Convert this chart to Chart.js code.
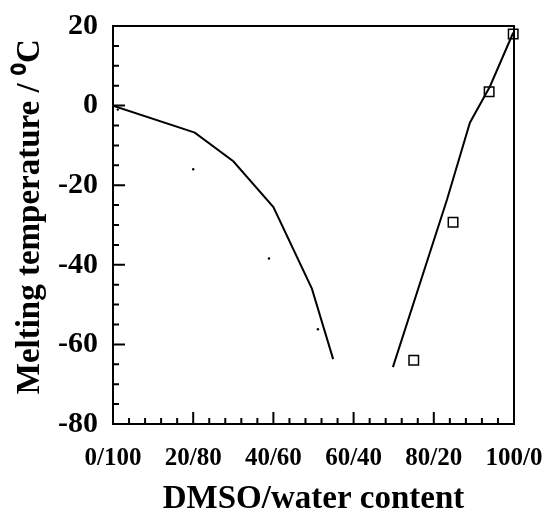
<!DOCTYPE html>
<html>
<head>
<meta charset="utf-8">
<script src="https://cdn.jsdelivr.net/npm/chart.js@4/dist/chart.umd.min.js"></script>
<style>
  body { margin: 0; background: #fff; }
  #wrap { width: 547px; height: 512px; }
</style>
</head>
<body>
<div id="wrap"><canvas id="grafico" width="547" height="512"></canvas></div>
<script>
// curva de fusion, lado agua
const lineaAguaX = [0, 20.4, 30, 40, 49.6, 54.9];
const lineaAguaY = [0, -6.8, -14, -25.5, -46, -63.7];
// curva de fusion, lado DMSO
const lineaDmsoX = [69.8, 83.3, 89, 94, 99.8];
const lineaDmsoY = [-65.7, -23.6, -4.3, 4.8, 18.3];
// puntos pequenos
const puntosX = [1.2, 20, 38.9, 51.1];
const puntosY = [-1, -16, -38.4, -56.2];
// cuadrados
const cuadradosX = [75, 84.8, 93.8, 99.8];
const cuadradosY = [-64, -29.3, 3.5, 18];

const ticksY = [-80, -60, -40, -20, 0, 20];
const ticksX = [0, 20, 40, 60, 80, 100];

const fuente = '"Liberation Serif", "Times New Roman", serif';

function pares(xs, ys) {
    return xs.map((x, i) => ({ x: x, y: ys[i] }));
}

// Marco superior/derecho y marcas hacia dentro
const marcoPlugin = {
    id: 'marco',
    afterDraw(chart) {
        const ctx = chart.ctx;
        const a = chart.chartArea;
        const sx = chart.scales.x;
        const sy = chart.scales.y;
        ctx.save();
        ctx.strokeStyle = '#000';
        ctx.lineWidth = 2;
        ctx.beginPath();
        ctx.moveTo(a.left, a.top);
        ctx.lineTo(a.right, a.top);
        ctx.lineTo(a.right, a.bottom);
        ctx.stroke();

        ctx.beginPath();
        for (let v = -80; v <= 20; v += 5) {
            const y = sy.getPixelForValue(v);
            const largo = (v % 20 === 0) ? 12 : 6;
            ctx.moveTo(a.left, y);
            ctx.lineTo(a.left + largo, y);
        }
        for (let v = 0; v <= 100; v += 4) {
            const x = sx.getPixelForValue(v);
            const largo = (v % 20 === 0) ? 12 : 6;
            ctx.moveTo(x, a.bottom);
            ctx.lineTo(x, a.bottom - largo);
        }
        ctx.stroke();
        ctx.restore();
    }
};

const ctx = document.getElementById('grafico').getContext('2d');

const chart = new Chart(ctx, {
    type: 'scatter',
    data: {
        datasets: [
            {
                data: pares(lineaAguaX, lineaAguaY),
                showLine: true,
                borderColor: '#000',
                borderWidth: 2,
                pointRadius: 0,
                tension: 0
            },
            {
                data: pares(lineaDmsoX, lineaDmsoY),
                showLine: true,
                borderColor: '#000',
                borderWidth: 2,
                pointRadius: 0,
                tension: 0
            },
            {
                data: pares(puntosX, puntosY),
                pointRadius: 1.2,
                pointBackgroundColor: '#000',
                pointBorderWidth: 0,
                borderColor: '#000'
            },
            {
                data: pares(cuadradosX, cuadradosY),
                pointStyle: 'rect',
                pointRadius: 6.7,
                pointBorderWidth: 1.5,
                pointBorderColor: '#000',
                pointBackgroundColor: 'rgba(0,0,0,0)',
                clip: false
            }
        ]
    },
    options: {
        responsive: false,
        animation: false,
        layout: { padding: { top: 26, right: 33, left: 0, bottom: 0 } },
        plugins: {
            legend: { display: false },
            tooltip: { enabled: false }
        },
        scales: {
            x: {
                type: 'linear',
                min: 0,
                max: 100,
                afterFit: s => {
                    s.height = 88;
                    s.paddingLeft = 0;
                    s.paddingRight = 0;
                },
                afterBuildTicks: s => { s.ticks = ticksX.map(v => ({ value: v })); },
                grid: { display: false, drawTicks: false },
                border: { display: true, color: '#000', width: 2 },
                ticks: {
                    color: '#000',
                    padding: 20,
                    maxRotation: 0,
                    font: { family: fuente, size: 25, weight: 'bold' },
                    callback: v => v + '/' + (100 - v)
                },
                title: {
                    display: true,
                    text: 'DMSO/water content',
                    color: '#000',
                    padding: { top: 0, bottom: 0 },
                    font: { family: fuente, size: 33, weight: 'bold', lineHeight: 0.75 }
                }
            },
            y: {
                type: 'linear',
                min: -80,
                max: 20,
                afterFit: s => {
                    s.width = 113;
                    s.paddingTop = 0;
                    s.paddingBottom = 0;
                },
                afterBuildTicks: s => { s.ticks = ticksY.map(v => ({ value: v })); },
                grid: { display: false, drawTicks: false },
                border: { display: true, color: '#000', width: 2 },
                ticks: {
                    color: '#000',
                    padding: 15,
                    font: { family: fuente, size: 30, weight: 'bold' }
                },
                title: {
                    display: true,
                    text: '\u00A0\u00A0Melting temperature / \u2070C',
                    color: '#000',
                    padding: { top: 11, bottom: 0 },
                    font: { family: fuente, size: 33, weight: 'bold' }
                }
            }
        }
    },
    plugins: [marcoPlugin]
});
</script>
</body>
</html>
